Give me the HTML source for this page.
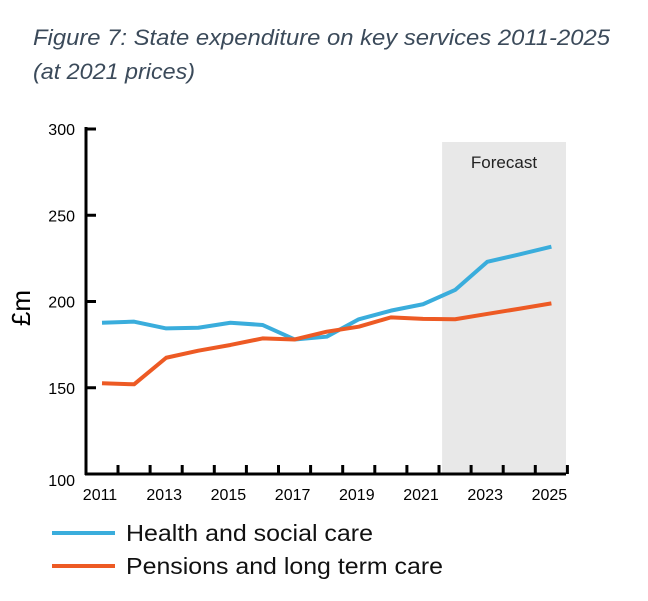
<!DOCTYPE html>
<html><head><meta charset="utf-8"><style>
body{margin:0;background:#fff;width:648px;height:596px;overflow:hidden;font-family:"Liberation Sans",sans-serif}
</style></head><body>
<svg id="chart" width="648" height="596" xmlns="http://www.w3.org/2000/svg">
<text x="33" y="45" font-size="22" font-style="italic" fill="#3b4a5a" textLength="577" lengthAdjust="spacingAndGlyphs">Figure 7: State expenditure on key services 2011-2025</text>
<text x="33" y="79" font-size="22" font-style="italic" fill="#3b4a5a" textLength="162" lengthAdjust="spacingAndGlyphs">(at 2021 prices)</text>
<g id="plot"></g>
</svg>
<script>
const years=[2011,2012,2013,2014,2015,2016,2017,2018,2019,2020,2021,2022,2023,2024,2025];
const health=[187.7,188.3,184.4,184.8,187.7,186.4,178,179.6,189.7,194.7,198.4,206.7,223,227.3,231.8];
const pensions=[152.6,152,167.4,171.5,174.8,178.6,178,182.5,185.4,190.8,189.9,189.7,192.8,195.8,198.9];
const yTicks=[100,150,200,250,300];
const xLabels=[2011,2013,2015,2017,2019,2021,2023,2025];
const forecastStart=2022;

const NS="http://www.w3.org/2000/svg";
const g=document.getElementById('plot');
const X=yr=>102+(yr-2011)*32.1;
const Y=v=>474-(v-100)*1.725;
function mk(t,a,p){const e=document.createElementNS(NS,t);for(const k in a)e.setAttribute(k,a[k]);(p||g).appendChild(e);return e;}

const fr=mk('rect',{x:X(forecastStart)-13,y:142,width:566-(X(forecastStart)-13),height:332,fill:'#e8e8e8'});


const ft=mk('text',{x:504,y:168,'font-size':17,'text-anchor':'middle',fill:'#222'});ft.textContent='Forecast';



mk('line',{x1:86,y1:127,x2:86,y2:475,stroke:'#000','stroke-width':3});
mk('line',{x1:85,y1:474,x2:566,y2:474,stroke:'#000','stroke-width':3});
yTicks.forEach(v=>{
  mk('line',{x1:86,y1:Y(v),x2:96,y2:Y(v),stroke:'#000','stroke-width':3});
  const t=mk('text',{x:75,y:Y(v)+(v==100?12:6),'font-size':16,'text-anchor':'end',fill:'#000'});t.textContent=v;
  
  
});
for(let i=0;i<years.length;i++){const x=X(years[i])+16;mk('line',{x1:x,y1:465,x2:x,y2:474,stroke:'#000','stroke-width':3});}
xLabels.forEach(yr=>{
  const t=mk('text',{x:X(yr)-2,y:500,'font-size':16,'text-anchor':'middle',fill:'#000'});t.textContent=yr;
  
  
});
const yl=mk('text',{x:0,y:0,'font-size':26,'text-anchor':'middle',fill:'#000',transform:'translate(30,308) rotate(-90)'});yl.textContent='£m';



function series(vals,color,name){
  const p=mk('polyline',{points:vals.map((v,i)=>X(years[i])+','+Y(v)).join(' '),fill:'none',stroke:color,'stroke-width':4,'stroke-linejoin':'round'});
  
  
}
series(health,'#3aaddc','health-line');
series(pensions,'#ed5a24','pensions-line');

[[533,'#3aaddc','Health and social care','legend-health',247],[566,'#ed5a24','Pensions and long term care','legend-pensions',317]].forEach(l=>{
  const gg=mk('g',{});
  
  
  mk('line',{x1:52,y1:l[0],x2:115,y2:l[0],stroke:l[1],'stroke-width':4},gg);
  const t=mk('text',{x:126,y:l[0]+8,'font-size':23,fill:'#111',textLength:l[4],lengthAdjust:'spacingAndGlyphs'},gg);t.textContent=l[2];
});
</script>
</body></html>
